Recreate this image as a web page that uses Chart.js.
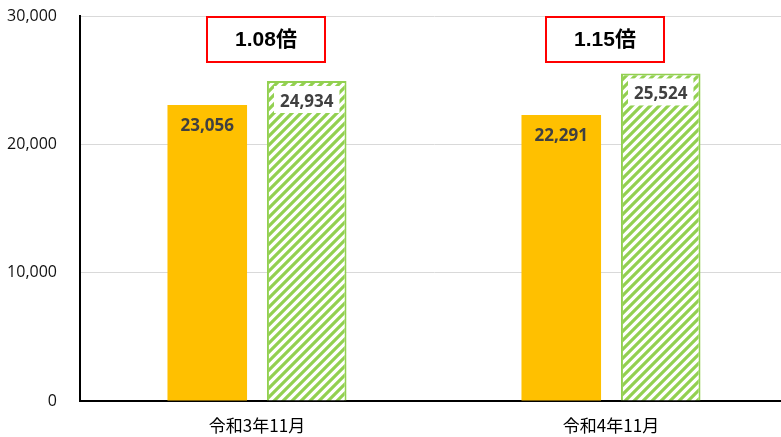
<!DOCTYPE html>
<html><head><meta charset="utf-8">
<script src="https://cdn.jsdelivr.net/npm/chart.js@4"></script>
<style>html,body{margin:0;padding:0;background:#fff;overflow:hidden;width:781px;height:437px}canvas{display:block}</style>
</head><body>
<canvas id="c" width="788" height="437"></canvas>
<script>
const categories = ['令和3年11月', '令和4年11月'];
const seriesA = [23056, 22291];
const seriesB = [24934, 25524];
const ratioLabels = ['1.08倍', '1.15倍'];
const yMin = 0, yMax = 30000, yStep = 10000;

function makeHatch() {
  const s = 9;
  const p = document.createElement('canvas');
  p.width = s; p.height = s;
  const g = p.getContext('2d');
  g.fillStyle = '#fff'; g.fillRect(0, 0, s, s);
  g.strokeStyle = '#92D050'; g.lineWidth = 3.2;
  g.beginPath();
  g.moveTo(-1, s + 1); g.lineTo(s + 1, -1);
  g.moveTo(-s / 2 - 1, s / 2 + 1); g.lineTo(s / 2 + 1, -s / 2 - 1);
  g.moveTo(s / 2 - 1, s * 1.5 + 1); g.lineTo(s * 1.5 + 1, s / 2 - 1);
  g.stroke();
  return document.getElementById('c').getContext('2d').createPattern(p, 'repeat');
}
const fmt = v => v.toLocaleString('en-US');

const labelPlugin = {
  id: 'barLabels',
  afterDatasetsDraw(chart) {
    const ctx = chart.ctx;
    ctx.save();
    ctx.font = 'bold 17px "Open Sans", "Liberation Sans", sans-serif';
    ctx.textAlign = 'center';
    ctx.textBaseline = 'middle';
    chart.data.datasets.forEach((ds, di) => {
      const meta = chart.getDatasetMeta(di);
      meta.data.forEach((el, i) => {
        const txt = fmt(ds.data[i]);
        const cy = el.y + 21;
        if (di === 1) {
          const w = ctx.measureText(txt).width + 12;
          ctx.fillStyle = '#fff';
          ctx.fillRect(el.x - w / 2, el.y + 5, w, 27);
        }
        ctx.fillStyle = '#404040';
        ctx.fillText(txt, el.x, cy);
      });
    });
    const xs = chart.scales.x;
    const offsets = [9, -6];
    ratioLabels.forEach((t, i) => {
      const cx = xs.getPixelForValue(i) + offsets[i];
      const top = chart.chartArea.top + 1;
      const w = 118, h = 45;
      ctx.fillStyle = '#fff';
      ctx.fillRect(cx - w / 2, top, w, h);
      ctx.strokeStyle = '#FF0000';
      ctx.lineWidth = 2;
      ctx.strokeRect(cx - w / 2, top, w, h);
      ctx.fillStyle = '#000';
      ctx.font = 'bold 21px "Liberation Sans", "Noto Sans CJK JP", sans-serif';
      ctx.fillText(t, cx, top + h / 2 + 1);
    });
    ctx.restore();
  }
};

new Chart(document.getElementById('c'), {
  type: 'bar',
  data: {
    labels: categories,
    datasets: [
      { data: seriesA, backgroundColor: '#FFC000', borderWidth: 0,
        categoryPercentage: 0.562, barPercentage: 0.8 },
      { data: seriesB, backgroundColor: makeHatch(), borderColor: '#92D050', borderWidth: 2,
        categoryPercentage: 0.562, barPercentage: 0.8 }
    ]
  },
  options: {
    responsive: false,
    animation: false,
    devicePixelRatio: 1,
    layout: { padding: { top: 16, left: 0, right: 0, bottom: 0 } },
    plugins: { legend: { display: false }, tooltip: { enabled: false } },
    scales: {
      x: {
        grid: { display: false },
        border: { color: '#000', width: 2 },
        ticks: { color: '#000', padding: 6,
          font: { family: '"Noto Sans CJK JP", sans-serif', size: 17 } },
        afterFit(s) { s.height = 36; }
      },
      y: {
        min: yMin, max: yMax,
        ticks: { stepSize: yStep, color: '#111', padding: 23,
          font: { family: '"Open Sans", "Liberation Sans", sans-serif', size: 16 },
          callback: v => fmt(v) },
        grid: { color: '#d9d9d9', drawTicks: false },
        border: { color: '#000', width: 2 },
        afterFit(s) { s.width = 80; s.paddingTop = 10; s.paddingBottom = 10; }
      }
    }
  },
  plugins: [labelPlugin]
});
</script>
</body></html>
